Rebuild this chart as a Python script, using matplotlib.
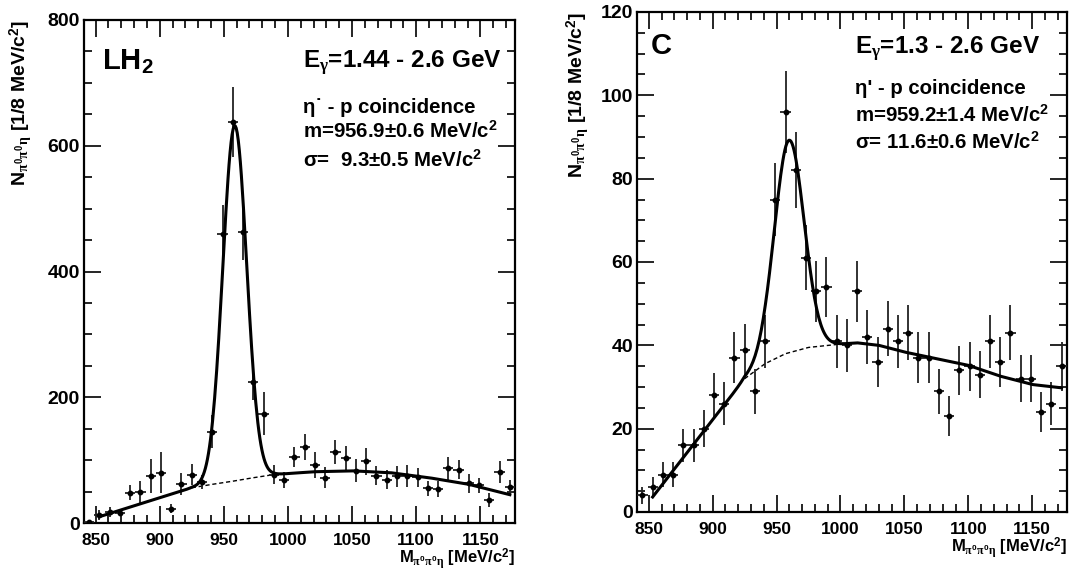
import numpy as np
import matplotlib
matplotlib.use("Agg")
import matplotlib.pyplot as plt
from matplotlib.ticker import MultipleLocator

plt.rcParams['font.family'] = ['Liberation Sans', 'DejaVu Sans']
plt.rcParams['font.weight'] = 'bold'
plt.rcParams['mathtext.fontset'] = 'custom'
plt.rcParams['mathtext.rm'] = 'Liberation Sans:bold'
plt.rcParams['mathtext.bf'] = 'Liberation Sans:bold'
plt.rcParams['mathtext.it'] = 'Liberation Serif'
plt.rcParams['mathtext.default'] = 'it'

# ---------------- data ----------------
bin_centers = np.arange(845, 1174, 8)   # 8 MeV bins, 845 ... 1173
bin_half = 4

lh2_counts = [1, 13, 18, 16, 48, 49, 74, 80, 23, 62,
              77, 65, 145, 460, 638, 463, 224, 174, 77, 68,
              105, 121, 92, 72, 113, 104, 83, 98, 75, 69,
              74, 75, 73, 55, 54, 87, 85, 63, 60, 37,
              81, 57]
lh2_errors = [1, 8, 8, 5, 12, 18, 27, 33, 7, 18,
              17, 11, 26, 45, 56, 45, 28, 34, 15, 13,
              16, 21, 21, 17, 19, 19, 18, 21, 15, 15,
              16, 17, 15, 12, 13, 18, 15, 15, 12, 11,
              18, 12]

c_counts = [4, 6, 9, 9, 16, 16, 20, 28, 26, 37,
            39, 29, 41, 75, 96, 82, 61, 53, 54, 41,
            40, 53, 42, 36, 44, 41, 43, 37, 37, 29,
            23, 34, 35, 33, 41, 36, 43, 32, 32, 24,
            26, 35]
c_errors = [2.0, 2.4, 3.0, 3.0, 4.0, 4.0, 4.5, 5.3, 5.1, 6.1,
            6.2, 5.4, 6.4, 8.7, 9.8, 9.1, 7.8, 7.3, 7.3, 6.4,
            6.3, 7.3, 6.5, 6.0, 6.6, 6.4, 6.6, 6.1, 6.1, 5.4,
            4.8, 5.8, 5.9, 5.7, 6.4, 6.0, 6.6, 5.7, 5.7, 4.9,
            5.1, 5.9]

# fitted background shapes
lh2_bg_x = [853, 925, 941, 957, 973, 989, 1020, 1050, 1080, 1110, 1140, 1173]
lh2_bg_y = [10, 56, 61.5, 66.5, 72, 77, 81.5, 83, 80, 72, 62, 45]
c_bg_x = [853, 925, 941, 957, 975, 997, 1013, 1030, 1050, 1075, 1100, 1125, 1150, 1173]
c_bg_y = [3.6, 32, 35.6, 38, 39.5, 40.2, 40.6, 40, 38.4, 36.8, 35.2, 32.6, 30.6, 29.8]

# gaussian peak parameters (amplitude, mean, sigma)
lh2_peak = (565, 958.5, 9.3)
c_peak = (51, 959.8, 11.6)

fit_range = (853, 1173)
lh2_dash_range = (925, 989)
c_dash_range = (925, 997)

lh2_texts = [r"E$_{\gamma}$=1.44 - 2.6 GeV", "\u03b7\u02d9 - p coincidence",
             "m=956.9\u00b10.6 MeV/c$^2$", "\u03c3=  9.3\u00b10.5 MeV/c$^2$"]
c_texts = [r"E$_{\gamma}$=1.3 - 2.6 GeV", "\u03b7' - p coincidence",
           "m=959.2\u00b11.4 MeV/c$^2$", "\u03c3= 11.6\u00b10.6 MeV/c$^2$"]

ylabel = r"N$_{\pi^0\pi^0\eta}$ [1/8 MeV/c$^2$]"
xlabel = r"M$_{\pi^0\pi^0\eta}$ [MeV/c$^2$]"

# ---------------- figure ----------------
fig = plt.figure(figsize=(10.72, 5.72), dpi=100)
ax1 = fig.add_axes([84/1072, 49/572, 431/1072, 503/572])
ax2 = fig.add_axes([637.3/1072, 60/572, 429.4/1072, 500/572])


def draw(ax, counts, errors, bgx, bgy, peak, dash_range, ylim, ymaj, ymin,
         label, lab_pos, texts, text_y, ylab_x):
    ax.errorbar(bin_centers, counts, yerr=errors, xerr=bin_half, fmt='o',
                ms=3.2, color='black', ecolor='#222222', elinewidth=1.3,
                capsize=0, zorder=3)
    xs = np.linspace(fit_range[0], fit_range[1], 400)
    bg = np.interp(xs, bgx, bgy)
    A, m, s = peak
    total = bg + A * np.exp(-0.5 * ((xs - m) / s) ** 2)
    ax.plot(xs, total, color='black', lw=2.2, zorder=4)
    xd = np.linspace(dash_range[0], dash_range[1], 100)
    ax.plot(xd, np.interp(xd, bgx, bgy), color='black', lw=1.0,
            ls=(0, (3, 2)), zorder=2)

    ax.set_xlim(841, 1177)
    ax.set_ylim(*ylim)
    ax.xaxis.set_major_locator(MultipleLocator(50))
    ax.xaxis.set_minor_locator(MultipleLocator(10))
    ax.yaxis.set_major_locator(MultipleLocator(ymaj))
    ax.yaxis.set_minor_locator(MultipleLocator(ymin))
    ax.tick_params(which='both', direction='in', top=True, right=True,
                   width=1.2)
    ax.tick_params(axis='x', labelsize=12.5, pad=7)
    ax.tick_params(axis='y', labelsize=14, pad=3)
    ax.tick_params(which='major', length=12)
    ax.tick_params(which='minor', length=6)
    for lab in ax.get_xticklabels() + ax.get_yticklabels():
        lab.set_fontweight('bold')
    for sp in ax.spines.values():
        sp.set_linewidth(1.6)

    ax.text(lab_pos[0], lab_pos[1], label, transform=ax.transAxes,
            fontsize=21, fontweight='bold', va='baseline', ha='left')
    ax.text(0.508, text_y[0], texts[0], transform=ax.transAxes,
            fontsize=17.5, fontweight='bold', va='baseline', ha='left')
    for t, yy in zip(texts[1:], text_y[1:]):
        ax.text(0.508, yy, t, transform=ax.transAxes,
                fontsize=14.7, fontweight='bold', va='baseline', ha='left')

    ax.text(ylab_x, 1.0, ylabel, transform=ax.transAxes, rotation=90,
            fontsize=14, fontweight='bold', va='top', ha='center')
    ax.text(1.0, -0.08, xlabel, transform=ax.transAxes,
            fontsize=12, fontweight='bold', va='baseline', ha='right')


draw(ax1, lh2_counts, lh2_errors, lh2_bg_x, lh2_bg_y, lh2_peak, lh2_dash_range,
     (0, 800), 200, 50, r"LH$_2$", (0.042, 0.9006), lh2_texts,
     [0.9046, 0.815, 0.765, 0.708], -0.145)
draw(ax2, c_counts, c_errors, c_bg_x, c_bg_y, c_peak, c_dash_range,
     (0, 120), 20, 5, "C", (0.032, 0.917), c_texts,
     [0.917, 0.836, 0.781, 0.727], -0.137)

fig.savefig("out.png", dpi=100)
